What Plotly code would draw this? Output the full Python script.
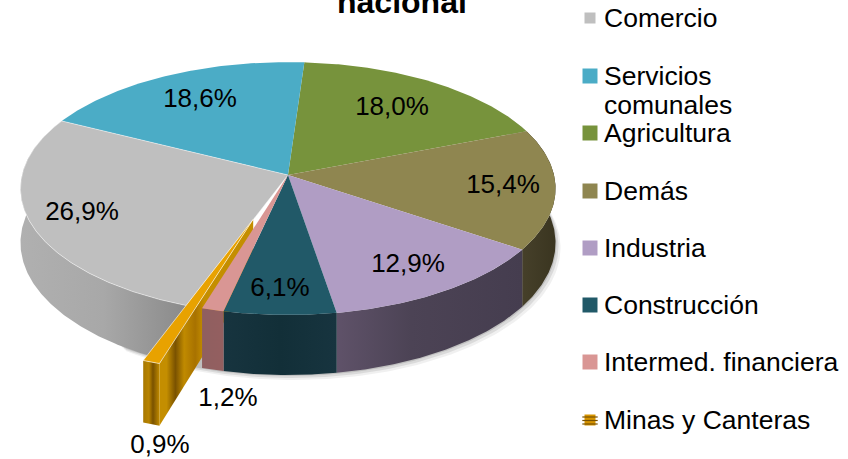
import numpy as np
import plotly.graph_objects as go

# ---- data ----
categories = ["Agricultura", "Demás", "Industria", "Construcción", "Intermed. financiera", "Minas y Canteras", "Comercio", "Servicios comunales"]
values = [18.0, 15.4, 12.9, 6.1, 1.2, 0.9, 26.9, 18.6]
value_labels = ["18,0%", "15,4%", "12,9%", "6,1%", "1,2%", "0,9%", "26,9%", "18,6%"]
legend_order = ["Comercio", "Servicios comunales", "Agricultura", "Demás", "Industria", "Construcción", "Intermed. financiera", "Minas y Canteras"]

# ---- style ----
top_colors = {"Agricultura": "#77933c", "Demás": "#8f8650", "Industria": "#b09dc4", "Construcción": "#215968",
              "Intermed. financiera": "#d99694", "Minas y Canteras": "#e8a200", "Comercio": "#bfbfbf",
              "Servicios comunales": "#4bacc6"}
rim_colors = {
    "Agricultura": [(0, "#4a5c26"), (1, "#4a5c26")],
    "Demás": [(0, "#46402a"), (1, "#3a3520")],
    "Industria": [(0, "#5f5269"), (0.4, "#4c4355"), (1, "#453d4f")],
    "Construcción": [(0, "#17343f"), (0.5, "#122f38"), (1, "#17343f")],
    "Intermed. financiera": [(0, "#8f5f60"), (1, "#945f60")],
    "Minas y Canteras": [(0, "#a87800"), (0.35, "#b88400"), (0.6, "#7a5200"), (1, "#c08a00")],
    "Comercio": [(0, "#b0b0b0"), (0.5, "#a8a8a8"), (1, "#8a8a8a")],
    "Servicios comunales": [(0, "#2f7085"), (1, "#2f7085")],
}
CX, CY, RX, RY, P, DEPTH, START_DEG, EXPLODE, EXPLODE_SHIFT = 288, 175, 266, 125, 0.107, 53.6, 3.9, 0.36, -0.012
EXPLODED = "Minas y Canteras"
FONT = "Liberation Sans"
LABEL_X = [392, 503, 408, 280, 228, 160, 82, 200]
LABEL_Y = [108, 186, 265, 289, 399, 446, 213, 100]


def project(u, v, drop=False):
    w = 1 + P * v
    x = CX + RX * u / w
    y = CY - RY * v / w
    if drop:
        y = y + DEPTH / w
    return x, y


fig = go.Figure()


def add_poly(x, y, color=None, grad=None, line=None, lw=0):
    kw = dict(x=list(x) + [x[0]], y=list(y) + [y[0]], mode="lines", fill="toself",
              hoverinfo="skip", showlegend=False,
              line=dict(width=lw, color=line or "rgba(0,0,0,0)"))
    if grad is not None:
        stops, a, b = grad
        kw["fillgradient"] = dict(type="horizontal", colorscale=[list(s) for s in stops], start=a, stop=b)
    else:
        kw["fillcolor"] = color
    fig.add_trace(go.Scatter(**kw))


# slice angles from the values
edges = START_DEG + np.concatenate([[0], np.cumsum(values)]) * 3.6
spans = {c: (edges[i], edges[i + 1]) for i, c in enumerate(categories)}


def offset(cat):
    if cat != EXPLODED:
        return 0.0, 0.0
    a, b = spans[cat]
    m = np.radians((a + b) / 2)
    return EXPLODE * np.sin(m) + EXPLODE_SHIFT, EXPLODE * np.cos(m)


def arc(cat, drop=False):
    a, b = spans[cat]
    t = np.radians(np.linspace(a, b, max(4, int(b - a) * 2)))
    ou, ov = offset(cat)
    return project(np.sin(t) + ou, np.cos(t) + ov, drop)


def rim(cat):
    x1, y1 = arc(cat)
    x2, y2 = arc(cat, True)
    xs = np.concatenate([x1, x2[::-1]])
    ys = np.concatenate([y1, y2[::-1]])
    add_poly(xs, ys, grad=(rim_colors[cat], xs.min(), xs.max()))


def top(cat, line=None, lw=0):
    x, y = arc(cat)
    ou, ov = offset(cat)
    ax, ay = project(np.array([ou]), np.array([ov]))
    add_poly(np.concatenate([ax, x]), np.concatenate([ay, y]), color=top_colors[cat], line=line, lw=lw)


# soft shadow below the solid
for i, (dx, alpha) in enumerate([(5, 0.06), (3, 0.09), (1, 0.12)]):
    t = np.radians(np.linspace(60, 215, 120))
    sx, sy = project(np.sin(t), np.cos(t), True)
    cx_, cy_ = project(np.sin(t), np.cos(t))
    add_poly(np.concatenate([sx + dx, cx_[::-1]]), np.concatenate([sy + dx, cy_[::-1]]),
             color=f"rgba(0,0,0,{alpha})")

# back to front
rim("Comercio")
for c in ["Agricultura", "Servicios comunales"]:
    top(c)
top("Comercio", line="rgba(255,255,255,0.8)", lw=0.6)

# exploded slice: right cut face, outer face, top
ou, ov = offset(EXPLODED)
a, b = spans[EXPLODED]
rb = np.radians(a)
fx1, fy1 = project(np.array([ou, np.sin(rb) + ou]), np.array([ov, np.cos(rb) + ov]))
fx2, fy2 = project(np.array([np.sin(rb) + ou, ou]), np.array([np.cos(rb) + ov, ov]), True)
fxs, fys = np.concatenate([fx1, fx2]), np.concatenate([fy1, fy2])
add_poly(fxs, fys, grad=([(0, "#c48e00"), (0.15, "#c48e00"), (0.35, "#7a5200"), (0.55, "#c08a00"), (0.8, "#a87200"), (1, "#c48e00")], 160, 204))
rim(EXPLODED)
top(EXPLODED, line="rgba(255,255,255,0.85)", lw=0.7)

for c in ["Demás", "Industria", "Construcción", "Intermed. financiera"]:
    rim(c)
for c in ["Demás", "Industria", "Construcción", "Intermed. financiera"]:
    top(c)

# data labels
fig.add_trace(go.Scatter(x=LABEL_X, y=LABEL_Y, text=value_labels, mode="text", textposition="middle center",
                         textfont=dict(family=FONT, size=26, color="#000000"), hoverinfo="skip", showlegend=False))

# legend
LEG_Y = [18, 76, 133, 191, 248, 305, 362, 420]
LEG_SIZE = [11, 15, 15, 15, 15, 15, 15, 11]
fig.add_trace(go.Scatter(x=[590] * 8, y=LEG_Y, mode="markers", hoverinfo="skip", showlegend=False,
                         marker=dict(symbol="square", size=LEG_SIZE, opacity=1, line=dict(width=0),
                                     color=[top_colors[c] if c != EXPLODED else "#d69400" for c in legend_order])))
# bands of the last swatch
fig.add_trace(go.Scatter(x=[590] * 3, y=[417, 420.5, 424], mode="markers", hoverinfo="skip", showlegend=False,
                         marker=dict(symbol="line-ew", size=11, opacity=1, line=dict(width=1.2, color="#7a5200"))))
anns = []
for c, y in zip(legend_order, LEG_Y):
    if c == "Servicios comunales":
        lines = [("Servicios", y), ("comunales", y + 29)]
    else:
        lines = [(c, y)]
    for txt, yy in lines:
        anns.append(dict(x=602, y=yy, text=txt, xref="x", yref="y", xanchor="left", yanchor="middle", showarrow=False,
                         font=dict(family=FONT, size=26.5, color="#000000")))
anns.append(dict(x=402, y=0.5, yshift=-1.5, text="<b>nacional</b>", xref="x", yref="y", xanchor="center", yanchor="middle",
                 showarrow=False, font=dict(family=FONT, size=32, color="#000000")))

fig.update_layout(width=848, height=459, margin=dict(l=0, r=0, t=0, b=0), paper_bgcolor="white", plot_bgcolor="white",
                  xaxis=dict(range=[0, 848], visible=False, fixedrange=True),
                  yaxis=dict(range=[459, 0], visible=False, fixedrange=True),
                  annotations=anns, showlegend=False)
fig.write_html("out.html", config=dict(displayModeBar=False),
               post_script="document.body.style.margin='0';document.body.style.overflow='hidden';")
